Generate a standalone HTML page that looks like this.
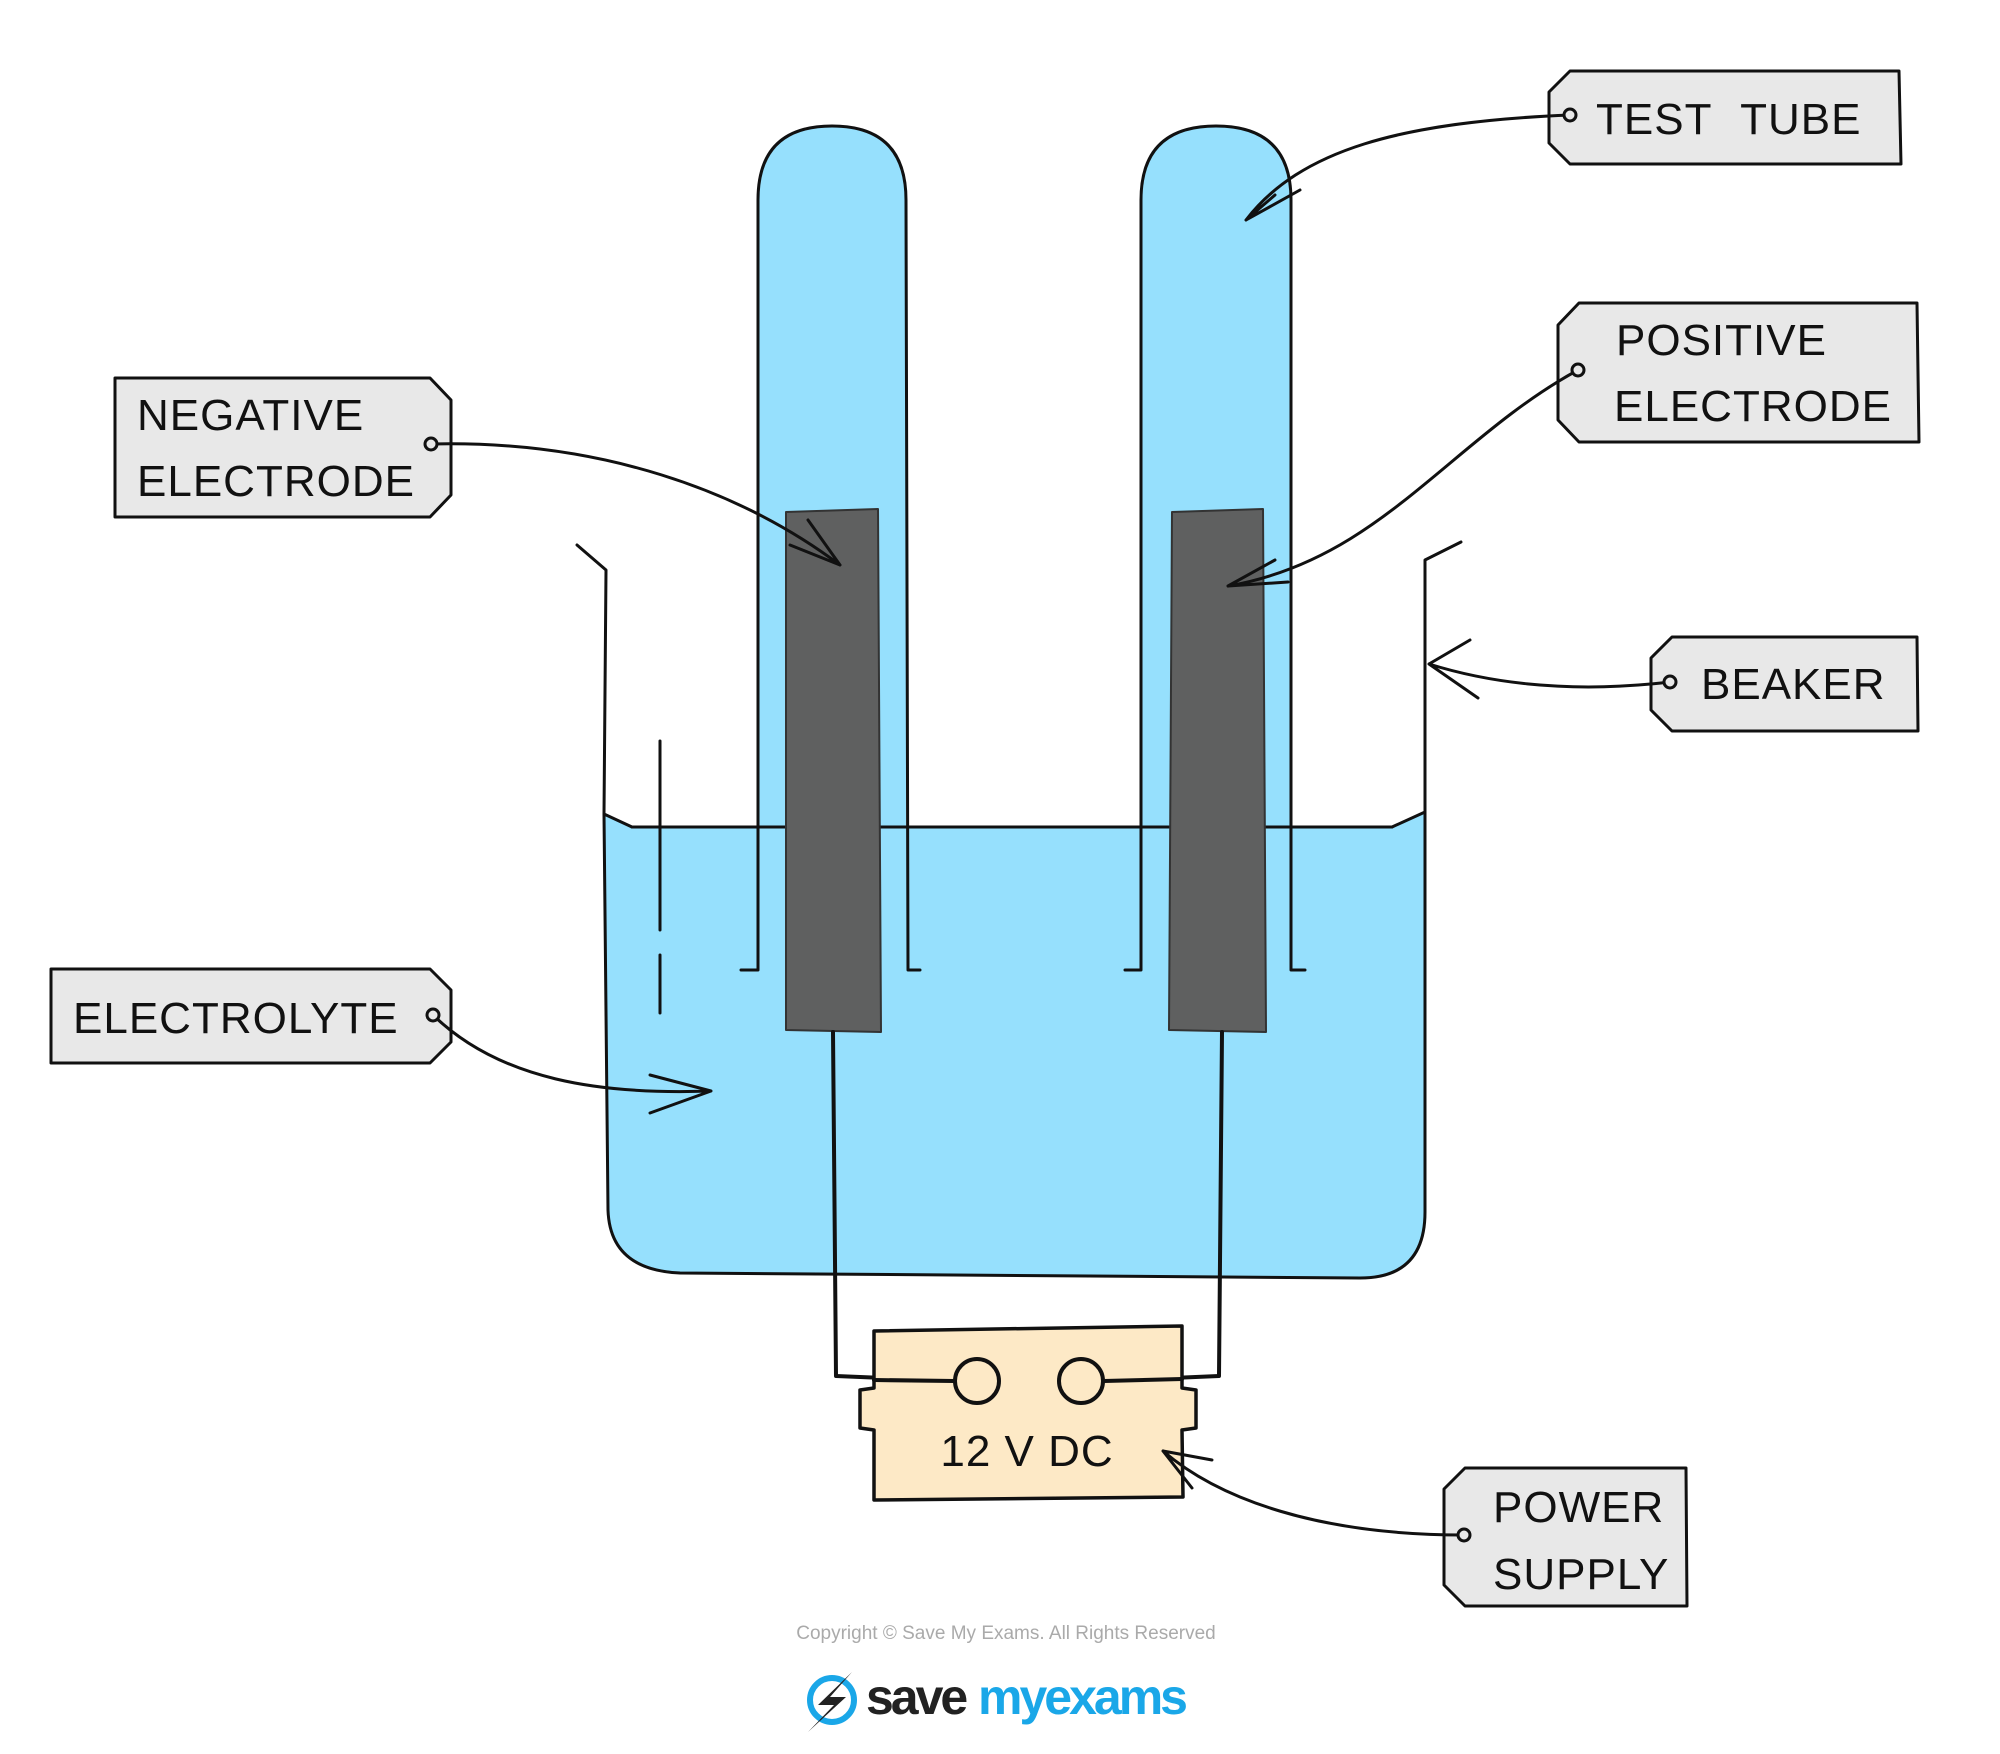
<!DOCTYPE html>
<html><head><meta charset="utf-8"><style>
html,body{margin:0;padding:0;background:#fff}
svg{display:block}
.t{font-family:"Liberation Sans",sans-serif;font-size:44px;fill:#111;letter-spacing:1px}
</style></head><body>
<svg width="2000" height="1754" viewBox="0 0 2000 1754" xmlns="http://www.w3.org/2000/svg">
<g stroke="#111" stroke-width="3" fill="none" stroke-linecap="round" stroke-linejoin="round">
<path d="M604 814 L632 827 L1392 827 L1425 812 L1425 1212 Q1425 1278 1360 1278 L680 1273 Q610 1270 608 1210 Z" fill="#96e0fd"/>
<path d="M577 545 L606 570 L604 814"/>
<path d="M1461 542 L1425 560 L1425 812"/>
<path d="M660 741 L660 930 M660 955 L660 1013"/>
<path d="M758 970 L758 200 Q758 126 832 126 Q906 126 906 200 L906 970 Z" fill="#96e0fd" stroke="none"/>
<path d="M1141 970 L1141 200 Q1141 126 1216 126 Q1291 126 1291 200 L1291 970 Z" fill="#96e0fd" stroke="none"/>
<path d="M741 970 L758 970 L758 200 Q758 126 832 126 Q906 126 906 200 L908 970 L920 970"/>
<path d="M1125 970 L1141 970 L1141 200 Q1141 126 1216 126 Q1291 126 1291 200 L1291 970 L1305 970"/>
<path d="M632 827 L1392 827"/>
<path d="M786 512 L878 509 L881 1032 L786 1030 Z" fill="#5f6060" stroke="#333" stroke-width="2"/>
<path d="M1172 512 L1263 509 L1266 1032 L1169 1030 Z" fill="#5f6060" stroke="#333" stroke-width="2"/>
<path d="M833 1032 L836 1376 L954 1381" stroke-width="4"/>
<path d="M1222 1032 L1219 1376 L1104 1381" stroke-width="4"/>
<path d="M874 1331 L1182 1326 L1182 1388 L1196 1390 L1196 1428 L1182 1430 L1183 1497 L874 1500 L874 1430 L860 1428 L860 1390 L874 1388 Z" fill="#fde9c6" stroke-width="3.5"/>
<circle cx="977" cy="1381" r="22" fill="#fde9c6" stroke-width="4"/>
<circle cx="1081" cy="1381" r="22" fill="#fde9c6" stroke-width="4"/>
<path d="M954 1381 L874 1380 M1104 1381 L1182 1379" stroke-width="4"/>
<path d="M1570 71 L1899 71 L1901 164 L1570 164 L1549 143 L1549 92 Z" fill="#e8e8e8"/>
<path d="M1579 303 L1917 303 L1919 442 L1579 442 L1558 420 L1558 325 Z" fill="#e8e8e8"/>
<path d="M115 378 L430 378 L451 400 L451 495 L430 517 L115 517 Z" fill="#e8e8e8"/>
<path d="M1672 637 L1917 637 L1918 731 L1672 731 L1651 710 L1651 658 Z" fill="#e8e8e8"/>
<path d="M51 969 L430 969 L451 990 L451 1042 L430 1063 L51 1063 Z" fill="#e8e8e8"/>
<path d="M1465 1468 L1686 1468 L1687 1606 L1465 1606 L1444 1585 L1444 1489 Z" fill="#e8e8e8"/>
<path d="M1570 115 C1400 122 1300 150 1246 220 M1246 220 L1275 195 M1246 220 L1300 190"/>
<circle cx="1570" cy="115" r="6" fill="#e8e8e8"/>
<path d="M1578 370 C1450 440 1380 560 1228 586 M1228 586 L1275 560 M1228 586 L1288 582"/>
<circle cx="1578" cy="370" r="6" fill="#e8e8e8"/>
<path d="M431 444 C600 440 740 490 840 565 M840 565 L790 545 M840 565 L808 520"/>
<circle cx="431" cy="444" r="6" fill="#e8e8e8"/>
<path d="M1670 682 C1560 695 1480 680 1429 664 M1429 664 L1470 640 M1429 664 L1478 698"/>
<circle cx="1670" cy="682" r="6" fill="#e8e8e8"/>
<path d="M433 1015 C500 1080 600 1095 711 1091 M711 1091 L650 1075 M711 1091 L650 1113"/>
<circle cx="433" cy="1015" r="6" fill="#e8e8e8"/>
<path d="M1464 1535 C1320 1535 1220 1500 1163 1451 M1163 1451 L1212 1460 M1163 1451 L1192 1488"/>
<circle cx="1464" cy="1535" r="6" fill="#e8e8e8"/>
</g>
<text class="t" x="1596" y="134" word-spacing="16">TEST TUBE</text>
<text class="t" x="1616" y="355">POSITIVE</text>
<text class="t" x="1614" y="421">ELECTRODE</text>
<text class="t" x="137" y="430">NEGATIVE</text>
<text class="t" x="137" y="496">ELECTRODE</text>
<text class="t" x="1701" y="699">BEAKER</text>
<text class="t" x="73" y="1033">ELECTROLYTE</text>
<text class="t" x="1493" y="1522">POWER</text>
<text class="t" x="1493" y="1589">SUPPLY</text>
<text class="t" x="1027" y="1466" text-anchor="middle">12 V DC</text>
<text x="1006" y="1639" text-anchor="middle" font-family="Liberation Sans,sans-serif" font-size="19" fill="#aaa">Copyright © Save My Exams. All Rights Reserved</text>
<circle cx="832" cy="1700" r="22" fill="none" stroke="#1aa7e8" stroke-width="6"/>
<path d="M852 1672 L818 1705 L834 1705 L808 1732 L846 1697 L830 1697 Z" fill="#222"/>
<text x="866" y="1714" font-family="Liberation Sans,sans-serif" font-size="50" font-weight="bold" letter-spacing="-3" fill="#222">save</text>
<text x="978" y="1714" font-family="Liberation Sans,sans-serif" font-size="50" font-weight="bold" letter-spacing="-3" fill="#1aa7e8">myexams</text>
</svg>
</body></html>
